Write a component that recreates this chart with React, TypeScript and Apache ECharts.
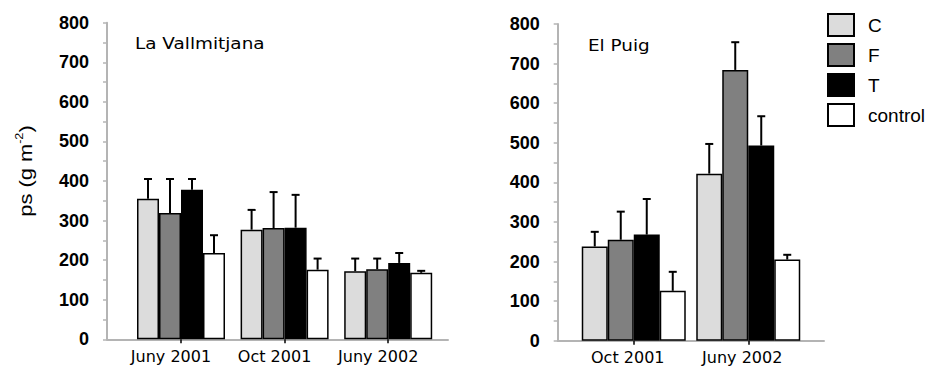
import React, { useEffect, useRef } from "react";
import * as echarts from "echarts";

// Sampling dates per site
const vallCategories = ["Juny 2001", "Oct 2001", "Juny 2002"];
const puigCategories = ["Oct 2001", "Juny 2002"];
const treatments = ["C", "F", "T", "control"];
const yTicks = [0, 800, 100];

// La Vallmitjana: means and standard errors (g m-2)
const vallC = [355, 277, 172];
const vallF = [319, 281, 177];
const vallT = [378, 282, 193];
const vallControl = [218, 176, 168];
const vallCErr = [50, 50, 32];
const vallFErr = [86, 91, 27];
const vallTErr = [27, 83, 25];
const vallControlErr = [45, 28, 5];

// El Puig: means and standard errors (g m-2)
const puigC = [238, 422];
const puigF = [255, 684];
const puigT = [268, 493];
const puigControl = [126, 205];
const puigCErr = [37, 75];
const puigFErr = [71, 70];
const puigTErr = [90, 74];
const puigControlErr = [48, 12];

const fills = ["#dcdcdc", "#808080", "#000000", "#ffffff"];
const axisGray = "#b4b4b4";

export default function App() {
  const ref = useRef<HTMLDivElement>(null);

  useEffect(() => {
    if (!ref.current) return;
    const chart = echarts.init(ref.current, undefined, { renderer: "svg" });

    const vallMeans = [vallC, vallF, vallT, vallControl];
    const vallErrs = [vallCErr, vallFErr, vallTErr, vallControlErr];
    const puigMeans = [puigC, puigF, puigT, puigControl];
    const puigErrs = [puigCErr, puigFErr, puigTErr, puigControlErr];

    const panels = [
      { means: vallMeans, errs: vallErrs, barWidth: 22 },
      { means: puigMeans, errs: puigErrs, barWidth: 26 },
    ];

    const series: any[] = [];
    panels.forEach((p, gi) => {
      treatments.forEach((name, k) => {
        series.push({
          type: "bar",
          name,
          xAxisIndex: gi,
          yAxisIndex: gi,
          data: p.means[k],
          barWidth: p.barWidth,
          barGap: "0%",
          itemStyle: { color: fills[k], borderColor: "#000", borderWidth: 1.5 },
          z: 2,
        });
      });
      treatments.forEach((name, k) => {
        const offset = (k - 1.5) * p.barWidth;
        series.push({
          type: "custom",
          name: name + " SE",
          xAxisIndex: gi,
          yAxisIndex: gi,
          z: 3,
          silent: true,
          encode: { x: 0, y: [1, 2] },
          data: p.means[k].map((m, i) => [i, m, m + p.errs[k][i]]),
          renderItem: (_params: any, api: any) => {
            const idx = api.value(0);
            const base = api.coord([idx, api.value(1)]);
            const top = api.coord([idx, api.value(2)]);
            const x = base[0] + offset;
            const st = { stroke: "#000", lineWidth: 2 };
            return {
              type: "group",
              children: [
                { type: "line", shape: { x1: x, y1: base[1], x2: x, y2: top[1] }, style: st },
                { type: "line", shape: { x1: x - 4, y1: top[1], x2: x + 4, y2: top[1] }, style: st },
              ],
            };
          },
        });
      });
    });

    const yValueAxis = (gridIndex: number, offset: number) => ({
      type: "value",
      gridIndex,
      min: yTicks[0],
      max: yTicks[1],
      interval: yTicks[2],
      offset,
      axisLine: { show: true, lineStyle: { color: axisGray, width: 2 } },
      axisTick: { show: true, length: 4, lineStyle: { color: axisGray, width: 1.5 } },
      minorTick: { show: true, splitNumber: 2, length: 4, lineStyle: { color: axisGray, width: 1.5 } },
      splitLine: { show: false },
      axisLabel: {
        margin: 18,
        color: "#000",
        fontFamily: "Liberation Sans",
        fontWeight: "bold",
        fontSize: 18,
      },
    });

    const catAxis = (gridIndex: number, data: string[], shift: number) => ({
      type: "category",
      gridIndex,
      data,
      axisLine: { show: false },
      axisTick: { show: true, alignWithLabel: true, length: 4, lineStyle: { color: "#000", width: 1.5 } },
      axisLabel: {
        interval: 0,
        hideOverlap: false,
        margin: 9,
        color: "#000",
        fontFamily: "DejaVu Sans",
        fontSize: 16,
        padding: [0, shift * 2, 0, 0],
      },
    });

    const frameX = (gridIndex: number) => ({
      type: "value",
      gridIndex,
      min: 0,
      max: 1,
      axisLine: { show: true, lineStyle: { color: axisGray, width: 2 } },
      axisTick: { show: false },
      axisLabel: { show: false },
      splitLine: { show: false },
    });
    const frameY = (gridIndex: number) => ({
      type: "value",
      gridIndex,
      min: 0,
      max: 1,
      show: false,
    });

    const titleText = (text: string, x: number, y: number) => ({
      type: "text",
      x,
      y,
      scaleX: 1.15,
      style: {
        text,
        fill: "#000",
        fontFamily: "DejaVu Sans",
        fontSize: 16,
        align: "left",
        verticalAlign: "top",
      },
    });

    chart.setOption({
      animation: false,
      backgroundColor: "#ffffff",
      grid: [
        { left: 129.2, top: 22.7, width: 310.8, height: 316.6 },
        { left: 576.5, top: 24, width: 229, height: 316.7 },
        { left: 107, top: 22.7, width: 341, height: 316.6 },
        { left: 557.7, top: 24, width: 266.3, height: 316.7 },
      ],
      xAxis: [
        catAxis(0, vallCategories, 10),
        catAxis(1, puigCategories, 6),
        frameX(2),
        frameX(3),
      ],
      yAxis: [yValueAxis(0, 22.2), yValueAxis(1, 18.8), frameY(2), frameY(3)],
      legend: {
        data: treatments,
        orient: "vertical",
        left: 827,
        top: 13,
        itemWidth: 26,
        itemHeight: 22,
        itemGap: 6,
        icon: "rect",
        selectedMode: false,
        padding: 0,
        itemStyle: { borderColor: "#000", borderWidth: 2 },
        textStyle: {
          color: "#000",
          fontFamily: "Liberation Sans",
          fontSize: 19,
          padding: [0, 0, 0, 9],
        },
      },
      graphic: [
        titleText("La Vallmitjana", 135, 35),
        titleText("El Puig", 588, 37),
        {
          type: "text",
          x: 25,
          y: 171,
          rotation: Math.PI / 2,
          scaleX: 1.15,
          style: {
            text: "{a|ps (g m}{b|-2}{a|)}",
            align: "center",
            verticalAlign: "middle",
            rich: {
              a: { fontFamily: "Liberation Sans", fontSize: 19, lineHeight: 22, fill: "#000" },
              b: { fontFamily: "Liberation Sans", fontSize: 11, lineHeight: 12, verticalAlign: "top", fill: "#000" },
            },
          },
        },
      ],
      series,
    });

    return () => chart.dispose();
  }, []);

  return (
    <div
      ref={ref}
      style={{ position: "fixed", left: 0, top: 0, width: 927, height: 367, background: "#fff" }}
    />
  );
}
